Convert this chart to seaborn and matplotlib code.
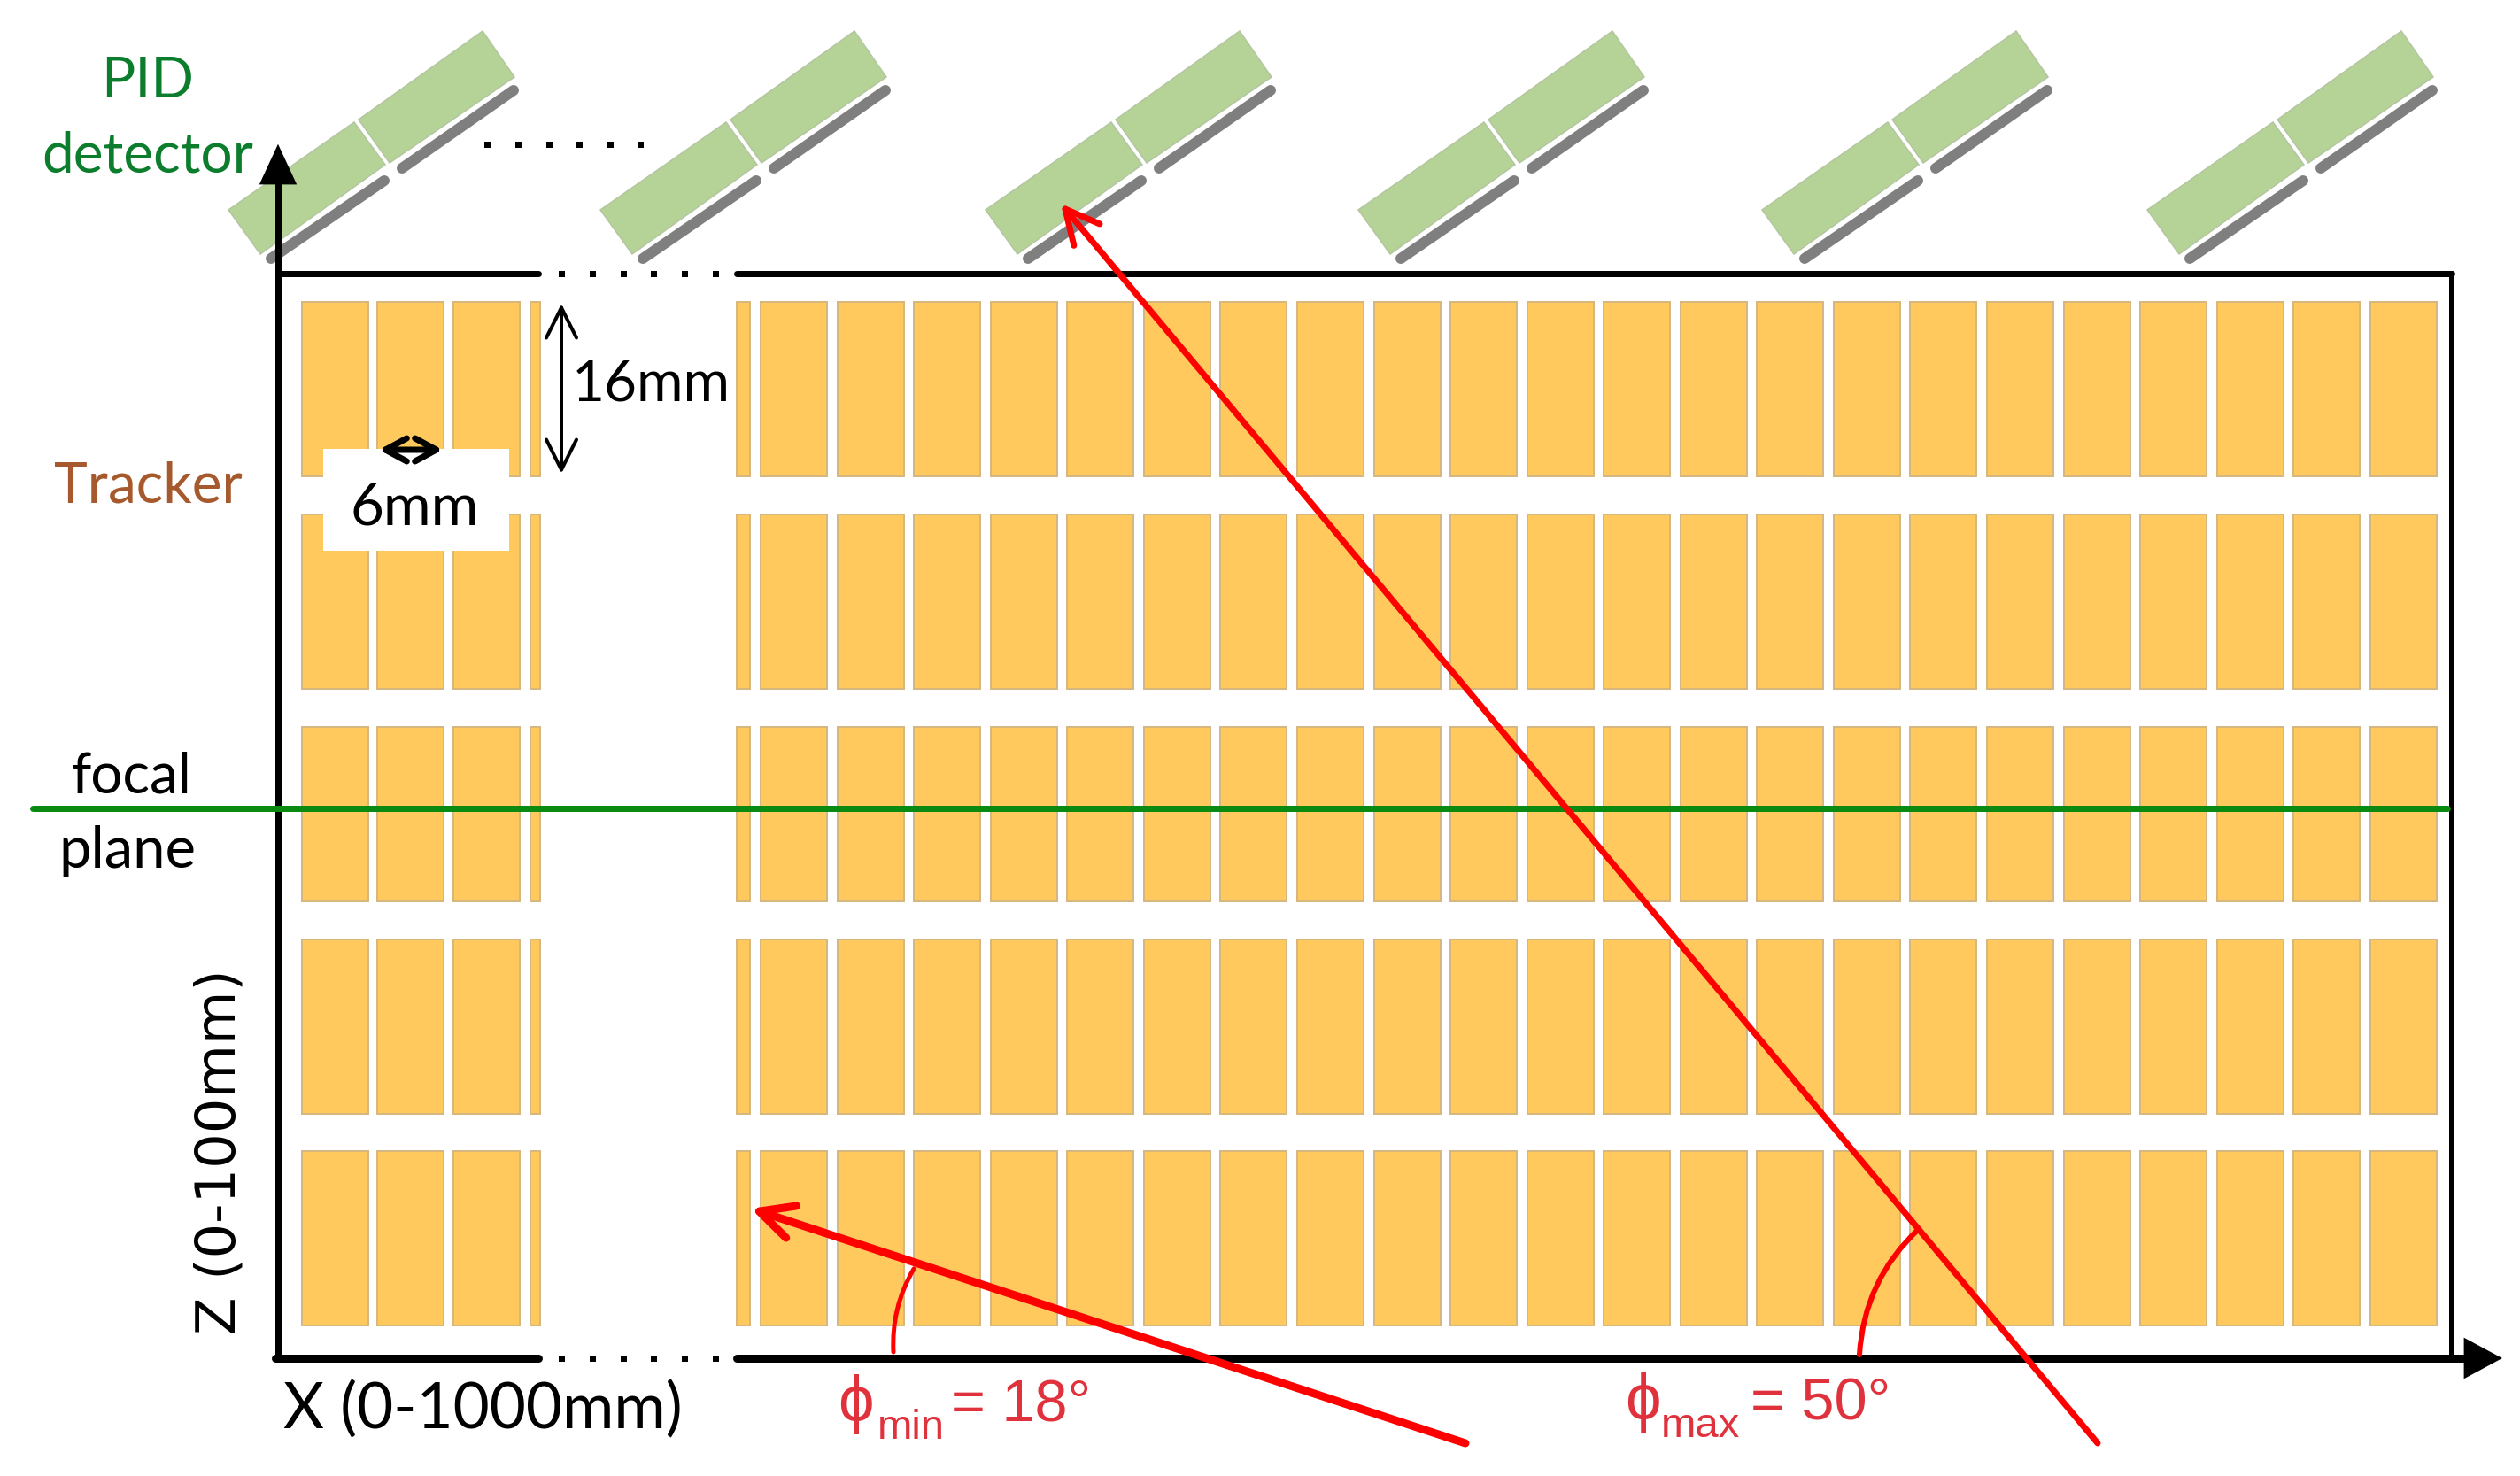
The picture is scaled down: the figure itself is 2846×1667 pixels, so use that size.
import matplotlib
import numpy as np

matplotlib.use('Agg')
import matplotlib.pyplot as plt
import pandas as pd
import seaborn as sns
from matplotlib.patches import Rectangle

row_tops = [341, 581, 821, 1061, 1300]
strip_height = 197
left_strips = [378, 463, 549.5]
right_strips = [896, 983, 1069, 1156, 1242, 1329, 1415, 1502, 1589, 1675, 1762,
                1848, 1935, 2021, 2108, 2194, 2281, 2368, 2454, 2541, 2627, 2714]
partial_strips = [(604, 11), (839.5, 15)]

module_anchors = [258, 678, 1113, 1534, 1990, 2425]
module_y = 237
panel_a = [(0, 0), (142, -99), (177, -51), (36, 50)]
panel_b = [(147, -102), (287, -202), (323, -150), (182, -53)]
sensor_a = [(48, 55), (176, -33)]
sensor_b = [(196, -47), (322, -135)]

dot_top_x = [550, 585, 620, 654, 689, 723]
dot_top_y = [163] * 6
dot_border_x = [634, 669, 704, 738, 773, 808]
dot_border_y = [309] * 6
dot_bottom_y = [1534] * 6

GREEN = '#0b7d2c'
RED = '#ff0000'
TEXT_RED = '#e0323c'
LATO = ['Lato', 'DejaVu Sans']
ARIAL = ['Liberation Sans', 'DejaVu Sans']


def px(n):
    return n * 72 / 200


def draw_line(ax, xs, ys, color='black', width=7, **kws):
    sns.lineplot(x=xs, y=ys, ax=ax, color=color, linewidth=px(width), sort=False,
                 estimator=None, legend=False, **kws)


def draw_strips(ax, top, centers, width):
    frame = pd.DataFrame({'x': centers, 'h': strip_height})
    sns.barplot(data=frame, x='x', y='h', ax=ax, native_scale=True, width=width,
                bottom=top, color='#ffc95e', saturation=1, errorbar=None,
                edgecolor='#d6b780', linewidth=px(2), zorder=1)


def draw_arrow(ax, tip, tail, head, color, width, **kws):
    style = head
    if head != '-':
        kind, length, half = head
        style = f'{kind},head_length={px(length):.2f},head_width={px(half):.2f}'
    ax.annotate('', xy=tip, xytext=tail,
                arrowprops=dict(arrowstyle=style, color=color, lw=px(width),
                                shrinkA=0, shrinkB=0, mutation_scale=1, **kws),
                zorder=6)


sns.set_theme(style='white')
fig, ax = plt.subplots(figsize=(14.23, 8.335), dpi=200)
fig.subplots_adjust(left=0, right=1, top=1, bottom=0)

full_step = min(np.diff(left_strips).min(), np.diff(right_strips).min())
all_full = left_strips + right_strips
for top in row_tops:
    draw_strips(ax, top, all_full, 75 / full_step)
    for center, size in partial_strips:
        draw_strips(ax, top, [center], size)

ax.add_patch(Rectangle((365, 507), 210, 115, facecolor='white', edgecolor='none', zorder=3))

for anchor in module_anchors:
    for panel in (panel_a, panel_b):
        pts = np.array(panel) + (anchor, module_y)
        ax.fill(pts[:, 0], pts[:, 1], facecolor='#b5d396', edgecolor='#b3c6a0',
                linewidth=px(1.5), zorder=2)
    for sensor in (sensor_a, sensor_b):
        pts = np.array(sensor) + (anchor, module_y)
        draw_line(ax, pts[:, 0], pts[:, 1], color='#7f7f7f', width=12,
                  solid_capstyle='round', zorder=2)

# frame with the broken part in the middle
draw_line(ax, [314, 608], [309, 309], zorder=4)
draw_line(ax, [832, 2769], [309, 309], zorder=4)
draw_line(ax, [2769, 2769], [309, 1534], width=6, zorder=4)
draw_line(ax, [314, 314], [1534, 200], width=7, zorder=4)
draw_line(ax, [311, 608], [1534, 1534], width=9, zorder=4)
draw_line(ax, [832, 2790], [1534, 1534], width=9, zorder=4)
ax.fill([314, 295, 333], [166, 207, 207], color='black', zorder=4)
ax.fill([2823, 2784, 2784], [1534, 1513, 1555], color='black', zorder=4)

for xs, ys in ((dot_top_x, dot_top_y), (dot_border_x, dot_border_y), (dot_border_x, dot_bottom_y)):
    sns.scatterplot(x=xs, y=ys, ax=ax, color='black', marker='s', s=px(7) ** 2,
                    linewidth=0, legend=False, zorder=4)

draw_line(ax, [37, 2764], [913, 913], color='#0b8a12', width=7, zorder=5)

# dimension arrows
draw_arrow(ax, (634, 343), (634, 535), ('<->', 34, 17), 'black', 4)
draw_arrow(ax, (428, 508), (500, 508), ('<->', 24, 13), 'black', 7)

# beams and angle arcs
draw_arrow(ax, (1198, 230), (2369, 1630), ('->', 38, 19), RED, 7)
draw_arrow(ax, (848, 1365), (1655, 1630), ('->', 38, 19), RED, 9)
draw_arrow(ax, (2167, 1388), (2100, 1530), '-', RED, 6, connectionstyle='arc3,rad=-0.2')
draw_arrow(ax, (1032, 1433), (1009, 1527), '-', RED, 5, connectionstyle='arc3,rad=-0.15')

text_kws = dict(ha='center', va='center', zorder=7)
ax.text(167, 92, 'PID', color=GREEN, family=LATO, fontsize=23, **text_kws)
ax.text(167, 176, 'detector', color=GREEN, family=LATO, fontsize=23, **text_kws)
ax.text(167, 549, 'Tracker', color='#a5592c', family=LATO, fontsize=23, **text_kws)
ax.text(148, 877, 'focal', color='black', family=LATO, fontsize=23, **text_kws)
ax.text(144, 961, 'plane', color='black', family=LATO, fontsize=23.5, **text_kws)
ax.text(735, 434, '16mm', color='black', family=LATO, fontsize=23, **text_kws)
ax.text(468, 574, '6mm', color='black', family=LATO, fontsize=23.5, **text_kws)
ax.text(248, 1301, 'Z (0-100mm)', color='black', family=['DejaVu Sans'], fontsize=22.4,
        rotation=90, **text_kws)
ax.text(545, 1592, 'X (0-1000mm)', color='black', family=LATO, fontsize=25.5, **text_kws)

base = dict(color=TEXT_RED, family=ARIAL, va='baseline', zorder=7)
ax.text(946, 1605, '\u03d5', fontsize=26, **base)
ax.text(991, 1625, 'min', fontsize=17, **base)
ax.text(1074, 1605, '= 18\u00b0', fontsize=24, **base)
ax.text(1835, 1603, '\u03d5', fontsize=26, **base)
ax.text(1876, 1623, 'max', fontsize=17, **base)
ax.text(1977, 1603, '= 50\u00b0', fontsize=24, **base)

ax.set_xlim(0, 2846)
ax.set_ylim(1667, 0)
ax.set_axis_off()
fig.savefig('out.png', dpi=200, facecolor='white')
plt.close(fig)
